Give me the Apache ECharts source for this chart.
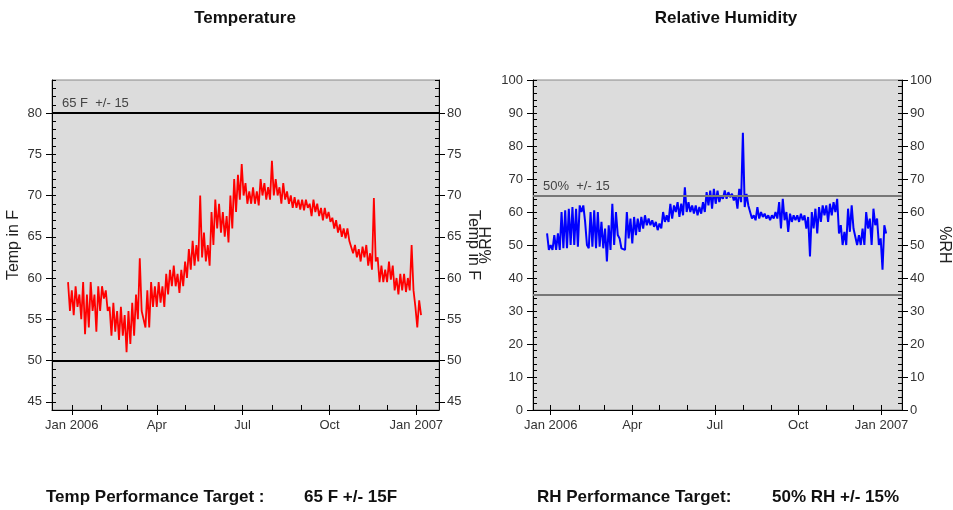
<!DOCTYPE html>
<html><head><meta charset="utf-8">
<script src="https://cdn.jsdelivr.net/npm/echarts@6/dist/echarts.min.js"></script>
<style>html,body{margin:0;padding:0;background:#fff}#c{width:953px;height:510px}</style>
</head><body><div id="c"></div>
<script>
// Days since 1 Jan 2006; each period (4 days) has a high and a low reading
const periodStart = -4;
const periodStep = 4;
const tempHi = [59.5,58.5,59,58,59.5,58,59.5,58,59,59,
  58.5,56.5,57,56,56.5,55.5,56,57,58,62.4,
  56,58.5,59.5,59,59.5,59,60.5,61,61.5,60.5,
  61,62,63.5,64.5,64,70,65.5,64,68,69.5,
  69,68,67.5,70,72,72.5,73.8,71.5,70.5,71,
  70.5,72,71.5,71,74.2,72,71,71.5,70.5,70,
  69.8,69.5,69.5,69.5,69,69.5,69,68.5,68.5,68,
  67.3,67,66.5,66,66,64.5,64,63.5,63.8,64,
  63,69.7,62.5,61.5,61,62,61.5,60,60.5,60.5,
  60,64,56.5,57.3];
const tempLo = [56,55.5,56.5,55,53.2,54,56,53.5,56,57.5,
  56,53,53.5,52.5,53,51,52,53,55,56,
  54,54,56.5,56.5,57,56.5,58,59,59,58.2,
  59,60,61,61.5,62,62.5,62,61.5,64,66,
  65.5,65,64.3,66,68,69.5,70,69,69,69,
  68.8,70,69.5,69.5,70,70,69,69.5,69,68.5,
  68.5,68.3,68.2,68.5,67.5,68,67.5,67,67.2,66.8,
  66,65.5,65,64.8,64.5,63,62.5,62,62.5,61.5,
  61,62,59.5,59.5,59.5,59.8,58.5,58,58.5,58.3,
  58.5,58.5,54,55.5];
const humHi = [53.5,50,53,53.5,60,60.5,61,61.5,61,62,
  62,50,60,60.5,60,57,55,56,62.5,60,
  52,49,60,58,58.5,58,58.5,59,58,57.5,
  57,56.5,60,59,62.5,62,63,62.5,67.5,63,
  62,62,61.5,63,66,66.5,67,66.5,65,66.5,
  66,65.5,65,67,84,65.5,60,59,61.5,60,
  59.5,59,59,60,63,64,60,59.5,59,59,
  59.5,59,58.5,60,61,61.5,62,62,62.5,63,
  64,56,54,61,62,55,53,55,60,58,
  61,58,52,56];
const humLo = [48.5,48.5,48.5,48.5,49,49,50,50,49.5,60,
  57,49,49.5,49,49.5,49,45,48.5,50,53,
  49,48.5,52,50.5,53,54,55,56,56,55.5,
  54.5,55,57,57,58,60,58.5,59,60,60,
  59.5,59,59.5,60,62,61,62.5,63,64,64,
  64.5,63.5,61,63,61.5,62,58,57.5,58,58.5,
  58,57.5,58,58,55,57.5,54,57,57.5,57,
  57.5,55,46.5,55,53.5,57,59,57,59,60,
  53.5,50,50,54,55,50,50,50,55,50,
  56,50,42.5,53.5];

const xTickDays = [0, 90, 181, 273, 365];
const xTickLabels = ['Jan 2006', 'Apr', 'Jul', 'Oct', 'Jan 2007'];
const monthDays = [0, 31, 59, 90, 120, 151, 181, 212, 243, 273, 304, 334, 365];
const tempTicks = [45, 50, 55, 60, 65, 70, 75, 80];
const tempLimits = [80, 50];
const humLimits = [65, 35];
const tempLimitLabel = '65 F  +/- 15';
const humLimitLabel = '50%  +/- 15';

function zig(hi, lo) {
  const out = [];
  for (let k = 0; k < hi.length; k++) {
    const d = periodStart + k * periodStep;
    out.push([d, hi[k]]);
    out.push([d + 2, lo[k]]);
  }
  return out;
}

const FONT = '"Liberation Sans", Arial, sans-serif';
const lbl = { color: '#333', fontSize: 13, fontFamily: FONT };
const nameStyle = { color: '#222', fontSize: 16, fontFamily: FONT };

function xAxes(grid, min, max) {
  return [
    { type: 'value', gridIndex: grid, min: min, max: max, position: 'bottom',
      axisLine: { onZero: false, lineStyle: { color: '#000' } },
      axisTick: { show: true, customValues: xTickDays, length: 5, lineStyle: { color: '#000' } },
      axisLabel: Object.assign({}, lbl, { customValues: xTickDays, margin: 9,
        formatter: function (v) { const i = xTickDays.indexOf(Math.round(v)); return i >= 0 ? xTickLabels[i] : ''; } }),
      splitLine: { show: false } },
    { type: 'value', gridIndex: grid, min: min, max: max, position: 'bottom',
      axisLine: { show: false, onZero: false }, axisLabel: { show: false }, splitLine: { show: false },
      axisTick: { show: true, inside: true, customValues: monthDays, length: 5, lineStyle: { color: '#000' } } }
  ];
}

function yMain(grid, pos, min, max, extra, name, gap) {
  return Object.assign({ type: 'value', gridIndex: grid, position: pos, min: min, max: max,
    name: name, nameLocation: 'middle', nameGap: gap, nameRotate: pos === 'left' ? 90 : -90,
    nameTextStyle: nameStyle,
    axisLine: { show: true, onZero: false, lineStyle: { color: '#000' } },
    axisTick: Object.assign({ show: true, length: 6, lineStyle: { color: '#000' } }, extra.tick || {}),
    axisLabel: Object.assign({}, lbl, { margin: pos === 'left' ? 10 : 8 }, extra.label || {}),
    splitLine: { show: false } }, extra.axis || {});
}
function yMinor(grid, pos, min, max, interval) {
  return { type: 'value', gridIndex: grid, position: pos, min: min, max: max, interval: interval,
    axisLine: { show: false, onZero: false }, axisLabel: { show: false }, splitLine: { show: false },
    axisTick: { show: true, inside: true, length: 4, lineStyle: { color: '#000' } } };
}

const tExtra = { tick: { customValues: tempTicks }, label: { customValues: tempTicks } };
const hExtra = { axis: { interval: 10 } };

function limitLines(vals, labelText, color) {
  return {
    symbol: ['none', 'none'], silent: true, animation: false,
    lineStyle: { color: color, width: 2, type: 'solid' },
    data: vals.map(function (v, i) {
      return { yAxis: v, label: i === 0 ? { show: true, formatter: labelText, position: 'insideStartTop',
        color: '#444', fontSize: 13, fontFamily: FONT, distance: [10, 3] } : { show: false } };
    })
  };
}

const chart = echarts.init(document.getElementById('c'));
chart.setOption({
  animation: false,
  backgroundColor: '#fff',
  grid: [
    { left: 52, right: 514, top: 80, bottom: 100, show: true, backgroundColor: '#dcdcdc', borderColor: '#888', borderWidth: 1 },
    { left: 533, right: 48, top: 80, bottom: 100, show: true, backgroundColor: '#dcdcdc', borderColor: '#888', borderWidth: 1 }
  ],
  xAxis: [].concat(xAxes(0, -21, 389), xAxes(1, -19.5, 387.5)),
  yAxis: [
    yMain(0, 'left', 44, 84, tExtra, 'Temp in F', 30),
    yMain(0, 'right', 44, 84, tExtra, 'Temp in F', 26),
    yMinor(0, 'left', 44, 84, 1),
    yMinor(0, 'right', 44, 84, 1),
    yMain(1, 'left', 0, 100, hExtra, '%RH', 38),
    yMain(1, 'right', 0, 100, hExtra, '%RH', 34),
    yMinor(1, 'left', 0, 100, 2),
    yMinor(1, 'right', 0, 100, 2)
  ],
  series: [
    { type: 'line', xAxisIndex: 0, yAxisIndex: 0, data: zig(tempHi, tempLo), showSymbol: false,
      lineStyle: { color: '#ff0000', width: 1.8 }, itemStyle: { color: '#ff0000' },
      markLine: limitLines(tempLimits, tempLimitLabel, '#000') },
    { type: 'line', xAxisIndex: 2, yAxisIndex: 4, data: zig(humHi, humLo), showSymbol: false,
      lineStyle: { color: '#0000ff', width: 2 }, itemStyle: { color: '#0000ff' },
      markLine: limitLines(humLimits, humLimitLabel, '#777') }
  ],
  graphic: [
    { type: 'text', x: 245, y: 18, style: { text: 'Temperature', font: 'bold 17px ' + FONT, fill: '#111', textAlign: 'center', textVerticalAlign: 'middle' } },
    { type: 'text', x: 726, y: 18, style: { text: 'Relative Humidity', font: 'bold 17px ' + FONT, fill: '#111', textAlign: 'center', textVerticalAlign: 'middle' } },
    { type: 'text', x: 46, y: 497, style: { text: 'Temp Performance Target :', font: 'bold 17px ' + FONT, fill: '#111', textVerticalAlign: 'middle' } },
    { type: 'text', x: 304, y: 497, style: { text: '65 F +/- 15F', font: 'bold 17px ' + FONT, fill: '#111', textVerticalAlign: 'middle' } },
    { type: 'text', x: 537, y: 497, style: { text: 'RH Performance Target:', font: 'bold 17px ' + FONT, fill: '#111', textVerticalAlign: 'middle' } },
    { type: 'text', x: 772, y: 497, style: { text: '50% RH +/- 15%', font: 'bold 17px ' + FONT, fill: '#111', textVerticalAlign: 'middle' } }
  ]
});
</script></body></html>
